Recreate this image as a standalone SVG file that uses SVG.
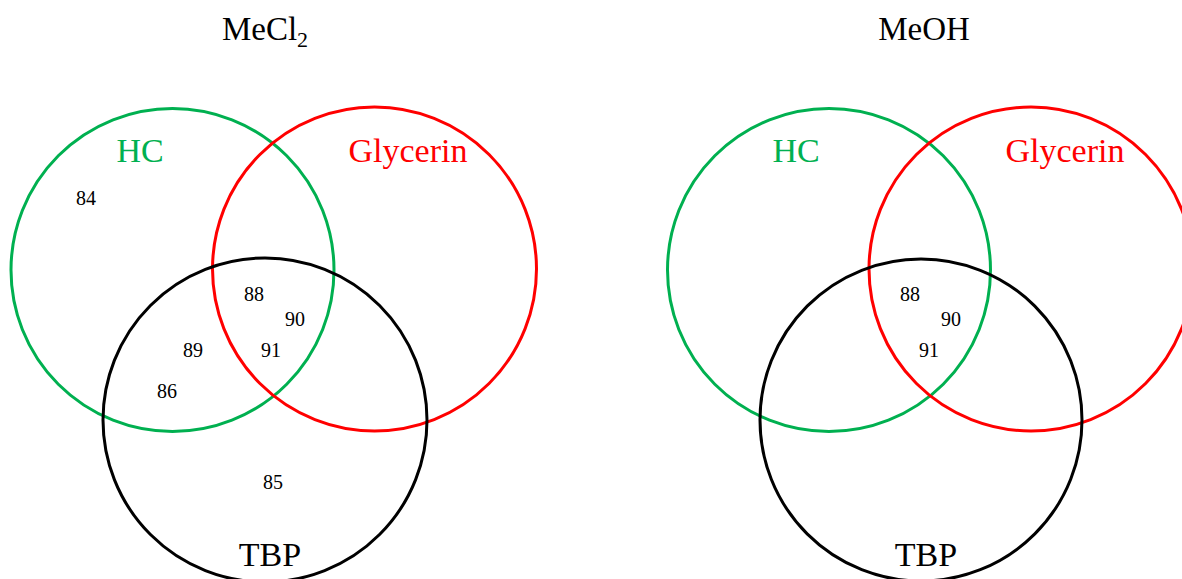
<svg xmlns="http://www.w3.org/2000/svg" width="1182" height="579" viewBox="0 0 1182 579">
  <style>
    text { font-family: "Liberation Serif", "Times New Roman", serif; text-anchor: middle; }
    .title { font-size: 33px; fill: #000; }
    .set { font-size: 34px; }
    .num { font-size: 20px; fill: #000; }
    .ring { fill: none; stroke-width: 3; }
    .hc { stroke: #00B050; }
    .gly { stroke: #FF0000; }
    .tbp { stroke: #000; }
  </style>
  <rect width="1182" height="579" fill="#fff"/>

  <!-- MeCl2 panel -->
  <g id="mecl2">
    <text class="title" x="265" y="40">MeCl<tspan font-size="22" dy="7">2</tspan></text>
    <g id="mecl2-hc">
      <circle class="ring hc" cx="172.5" cy="270" r="161.5"/>
      <text class="set" x="140" y="162" fill="#00B050">HC</text>
    </g>
    <g id="mecl2-glycerin">
      <circle class="ring gly" cx="374.5" cy="269" r="162"/>
      <text class="set" x="408" y="162" fill="#FF0000">Glycerin</text>
    </g>
    <g id="mecl2-tbp">
      <circle class="ring tbp" cx="265" cy="420" r="162"/>
      <text class="set" x="270" y="566" fill="#000">TBP</text>
    </g>
    <g id="mecl2-values">
      <text class="num" x="86" y="205">84</text>
      <text class="num" x="254" y="301">88</text>
      <text class="num" x="295" y="326">90</text>
      <text class="num" x="193" y="357">89</text>
      <text class="num" x="271" y="357">91</text>
      <text class="num" x="167" y="398">86</text>
      <text class="num" x="273" y="489">85</text>
    </g>
  </g>

  <!-- MeOH panel -->
  <g id="meoh">
    <text class="title" x="924" y="40">MeOH</text>
    <g id="meoh-hc">
      <circle class="ring hc" cx="829" cy="270" r="161.5"/>
      <text class="set" x="796" y="162" fill="#00B050">HC</text>
    </g>
    <g id="meoh-glycerin">
      <circle class="ring gly" cx="1031" cy="269" r="162"/>
      <text class="set" x="1065" y="162" fill="#FF0000">Glycerin</text>
    </g>
    <g id="meoh-tbp">
      <circle class="ring tbp" cx="921" cy="420" r="161"/>
      <text class="set" x="926" y="566" fill="#000">TBP</text>
    </g>
    <g id="meoh-values">
      <text class="num" x="910" y="301">88</text>
      <text class="num" x="951" y="326">90</text>
      <text class="num" x="929" y="357">91</text>
    </g>
  </g>

  <!-- no connectors in this figure -->
  <g id="connectors"/>
</svg>
